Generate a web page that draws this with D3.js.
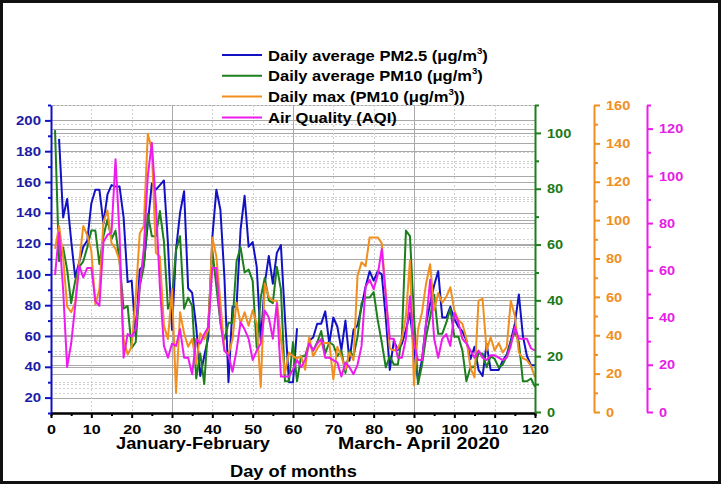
<!DOCTYPE html>
<html>
<head>
<meta charset="utf-8">
<script src="https://cdn.jsdelivr.net/npm/d3@7"></script>
<style>
  body { margin: 0; background: #fff; }
  svg text { font-family: "Liberation Sans", Arial, sans-serif; font-weight: bold; }
</style>
</head>
<body>
<div id="app"></div>
<script>
// day numbers 1..120 (null = no data)
const days = d3.range(1, 121);

const pm25 = [null,188,137,149,122,98,108,118,122,146,155,155,133,152,158,157,157,137,95,96,
  60,103,106,133,159,155,158,161,120,64,116,140,154,91,88,66,34,47,59,124,
  155,142,98,30,79,79,129,151,118,121,105,57,94,112,94,114,119,72,30,30,
  65,null,null,57,59,68,68,76,55,72,66,51,70,44,64,67,79,92,102,96,
  102,100,72,38,57,51,55,64,75,51,31,45,68,81,93,102,72,72,79,71,
  66,63,57,45,53,38,34,55,38,38,38,44,48,57,68,87,60,47,41,41];

const pm10 = [101,54,59,51,39,47,52,54,59,65,65,53,63,69,62,65,54,37,38,23,
  25,45,52,71,63,63,72,61,37,41,58,63,37,41,38,12,21,10,32,58,
  45,32,26,32,32,54,59,50,51,47,23,41,48,40,39,52,44,11,11,25,
  11,20,20,25,22,25,29,21,25,24,20,22,14,22,20,27,39,41,41,43,
  33,25,16,20,17,17,27,65,63,34,10,17,27,34,42,28,28,32,37,27,
  27,22,11,16,16,21,21,16,20,19,16,17,20,25,29,25,11,11,12,9];

const pm10max = [85,97,81,55,52,57,78,97,92,84,56,64,99,105,88,85,79,38,30,34,
  60,93,97,145,137,83,81,45,38,64,10,52,41,34,38,25,41,38,43,91,
  81,57,32,30,38,57,46,52,45,53,46,13,67,60,58,58,38,20,31,29,
  28,29,22,39,29,33,36,36,36,17,34,29,22,31,27,71,78,76,91,91,
  91,88,62,33,32,33,38,50,79,14,43,52,67,77,53,62,57,60,65,53,
  48,46,38,23,18,58,59,32,39,32,36,31,34,58,50,31,28,27,24,18];

const aqi = [58,76,52,19,29,45,62,57,61,61,47,45,72,75,76,107,75,23,33,32,
  35,53,69,100,114,88,53,28,23,29,28,35,23,23,16,31,29,33,36,61,
  61,38,26,24,17,26,38,35,31,22,26,29,43,40,31,46,15,15,15,18,
  22,19,22,29,26,29,31,23,23,22,21,15,21,19,16,20,28,53,56,52,
  58,69,49,31,31,23,23,31,49,29,22,22,38,56,31,23,31,33,28,42,
  38,31,29,26,23,26,23,22,24,24,23,22,23,28,36,31,31,31,27,26];

const legendLabels = [
  ["Daily average PM2.5 (μg/m", "3", ")"],
  ["Daily average PM10 (μg/m", "3", ")"],
  ["Daily max (PM10 (μg/m", "3", "))"],
  ["Air Quality (AQI)", "", ""]
];

const xTicks = d3.range(0, 121, 10);
const leftTicks = d3.range(20, 201, 20);
const greenTicks = d3.range(0, 101, 20);
const orangeTicks = d3.range(0, 161, 20);
const magentaTicks = d3.range(0, 121, 20);

const BLUE = "#1212c4", GREEN = "#1c7f1c", ORANGE = "#f18e1e", MAGENTA = "#ee1bee";

const W = 722, H = 487;
const svg = d3.select("#app").append("svg")
  .attr("width", W).attr("height", H);

svg.append("rect").attr("width", W).attr("height", H).attr("fill", "#fff");

// scales
const x = d3.scaleLinear().domain([0, 120]).range([51, 535]);
const yL = d3.scaleLinear().domain([10, 210]).range([413, 105]);
const yG = d3.scaleLinear().domain([0, 110]).range([412, 105]);
const yO = d3.scaleLinear().domain([0, 160]).range([412, 105]);
const yM = d3.scaleLinear().domain([0, 130]).range([412, 105]);

// grid
const grid = svg.append("g");
function hGrid(scale, lo, hi, major) {
  d3.range(lo, hi + 0.1, 10).forEach(v => {
    const isMajor = v % major === 0;
    grid.append("line")
      .attr("x1", 51).attr("x2", 535)
      .attr("y1", Math.round(scale(v)) + 0.5).attr("y2", Math.round(scale(v)) + 0.5)
      .attr("stroke", isMajor ? "#a9a9a9" : "#cfcfcf")
      .attr("stroke-width", 1)
      .attr("stroke-dasharray", isMajor ? null : "2,2");
  });
}
hGrid(yL, 20, 210, 20);
hGrid(yG, 10, 110, 20);
hGrid(yO, 10, 160, 20);
hGrid(yM, 10, 130, 20);

xTicks.filter(d => d > 0 && d < 120).forEach(d => {
  const solid = d % 30 === 0;
  grid.append("line")
    .attr("x1", Math.round(x(d)) + 0.5).attr("x2", Math.round(x(d)) + 0.5)
    .attr("y1", 105).attr("y2", 413)
    .attr("stroke", solid ? "#a9a9a9" : "#cfcfcf")
    .attr("stroke-dasharray", solid ? null : "2,2");
});

// series
function drawLine(values, y, color) {
  const line = d3.line()
    .defined(d => d != null)
    .x((d, i) => x(days[i]))
    .y(d => y(d));
  svg.append("path")
    .datum(values)
    .attr("fill", "none")
    .attr("stroke", color)
    .attr("stroke-width", 2)
    .attr("stroke-linejoin", "round")
    .attr("d", line);
}
drawLine(pm25, yL, BLUE);
drawLine(pm10, yG, GREEN);
drawLine(pm10max, yO, ORANGE);
drawLine(aqi, yM, MAGENTA);

// stretch tick text horizontally (the picture is wider than the font)
function stretch(sel, k) {
  sel.each(function () {
    const L = this.getComputedTextLength();
    d3.select(this).attr("textLength", L * k).attr("lengthAdjust", "spacingAndGlyphs");
  });
}

function styleAxis(g, color, size) {
  g.select(".domain").attr("stroke", color).attr("stroke-width", 2);
  g.selectAll(".tick line").attr("stroke", color).attr("stroke-width", 2);
  g.selectAll("text").attr("fill", color).attr("font-size", size).attr("font-family", null);
}

function minorTicks(values, majors) {
  return values.filter(v => !majors.includes(v));
}

// x axis
const gxMinor = svg.append("g").attr("transform", "translate(0,413)")
  .call(d3.axisBottom(x).tickValues(minorTicks(d3.range(0, 121, 5), xTicks)).tickSize(3).tickFormat(""));
styleAxis(gxMinor, "#000", 13);
const gx = svg.append("g").attr("transform", "translate(0,413)")
  .call(d3.axisBottom(x).tickValues(xTicks).tickSize(5).tickSizeOuter(0).tickPadding(7));
styleAxis(gx, "#000", 13);
stretch(gx.selectAll("text"), 1.24);

// left axis
const gl = svg.append("g").attr("transform", "translate(51,0)");
gl.call(d3.axisLeft(yL).tickValues(minorTicks(d3.range(10, 211, 10), leftTicks)).tickSize(3).tickSizeOuter(0).tickFormat(""));
styleAxis(gl, BLUE, 13);
const gl2 = svg.append("g").attr("transform", "translate(51,0)")
  .call(d3.axisLeft(yL).tickValues(leftTicks).tickSize(6).tickSizeOuter(0).tickPadding(4));
styleAxis(gl2, BLUE, 13);
gl2.select(".domain").remove();
gl2.selectAll("text").attr("fill", "#1c1ca6");
stretch(gl2.selectAll("text"), 1.15);

// right axes
function rightAxis(scale, pos, majors, top, color, labelColor) {
  const g = svg.append("g").attr("transform", `translate(${pos},0)`);
  g.call(d3.axisRight(scale).tickValues(minorTicks(d3.range(0, top + 0.1, 10), majors)).tickSize(4).tickSizeOuter(0).tickFormat(""));
  styleAxis(g, color, 13);
  const g2 = svg.append("g").attr("transform", `translate(${pos},0)`)
    .call(d3.axisRight(scale).tickValues(majors).tickSize(6).tickSizeOuter(0).tickPadding(6));
  styleAxis(g2, color, 13);
  g2.select(".domain").remove();
  g2.selectAll("text").attr("fill", labelColor);
  stretch(g2.selectAll("text"), 1.12);
}
rightAxis(yG, 535, greenTicks, 110, GREEN, "#1a7a1a");
rightAxis(yO, 594, orangeTicks, 160, ORANGE, "#ef8f22");
rightAxis(yM, 647, magentaTicks, 130, MAGENTA, "#e61de6");

// legend
const legendColors = [BLUE, GREEN, ORANGE, MAGENTA];
const legendWidths = [220, 215, 197, 129];
const legend = svg.append("g");
legendLabels.forEach((lab, i) => {
  const cy = 55 + i * 20.8;
  legend.append("line")
    .attr("x1", 222).attr("x2", 262)
    .attr("y1", cy).attr("y2", cy)
    .attr("stroke", legendColors[i]).attr("stroke-width", 2);
  const t = legend.append("text")
    .attr("font-size", 15.5).attr("fill", "#000");
  t.append("tspan").text(lab[0]);
  if (lab[1]) {
    t.append("tspan").attr("font-size", 9).attr("dy", -7).text(lab[1]);
    t.append("tspan").attr("dy", 7).text(lab[2]);
  }
  const w = t.node().getComputedTextLength();
  t.attr("transform", `translate(268,${cy + 5.5}) scale(${legendWidths[i] / w},1)`);
});

// bottom titles
function label(txt, x0, cy, size, width) {
  const t = svg.append("text").attr("font-size", size).attr("fill", "#000").text(txt);
  const w = t.node().getComputedTextLength();
  t.attr("transform", `translate(${x0},${cy + size * 0.36}) scale(${width / w},1)`);
}
label("January-February", 116, 443.5, 16, 154);
label("March- April   2020", 338, 443.5, 16, 162);
label("Day of months", 230, 471, 16.5, 127);

// outer frame
svg.append("rect")
  .attr("x", 1.5).attr("y", 1.5)
  .attr("width", 718).attr("height", 481)
  .attr("fill", "none").attr("stroke", "#111").attr("stroke-width", 3);
</script>
</body>
</html>
